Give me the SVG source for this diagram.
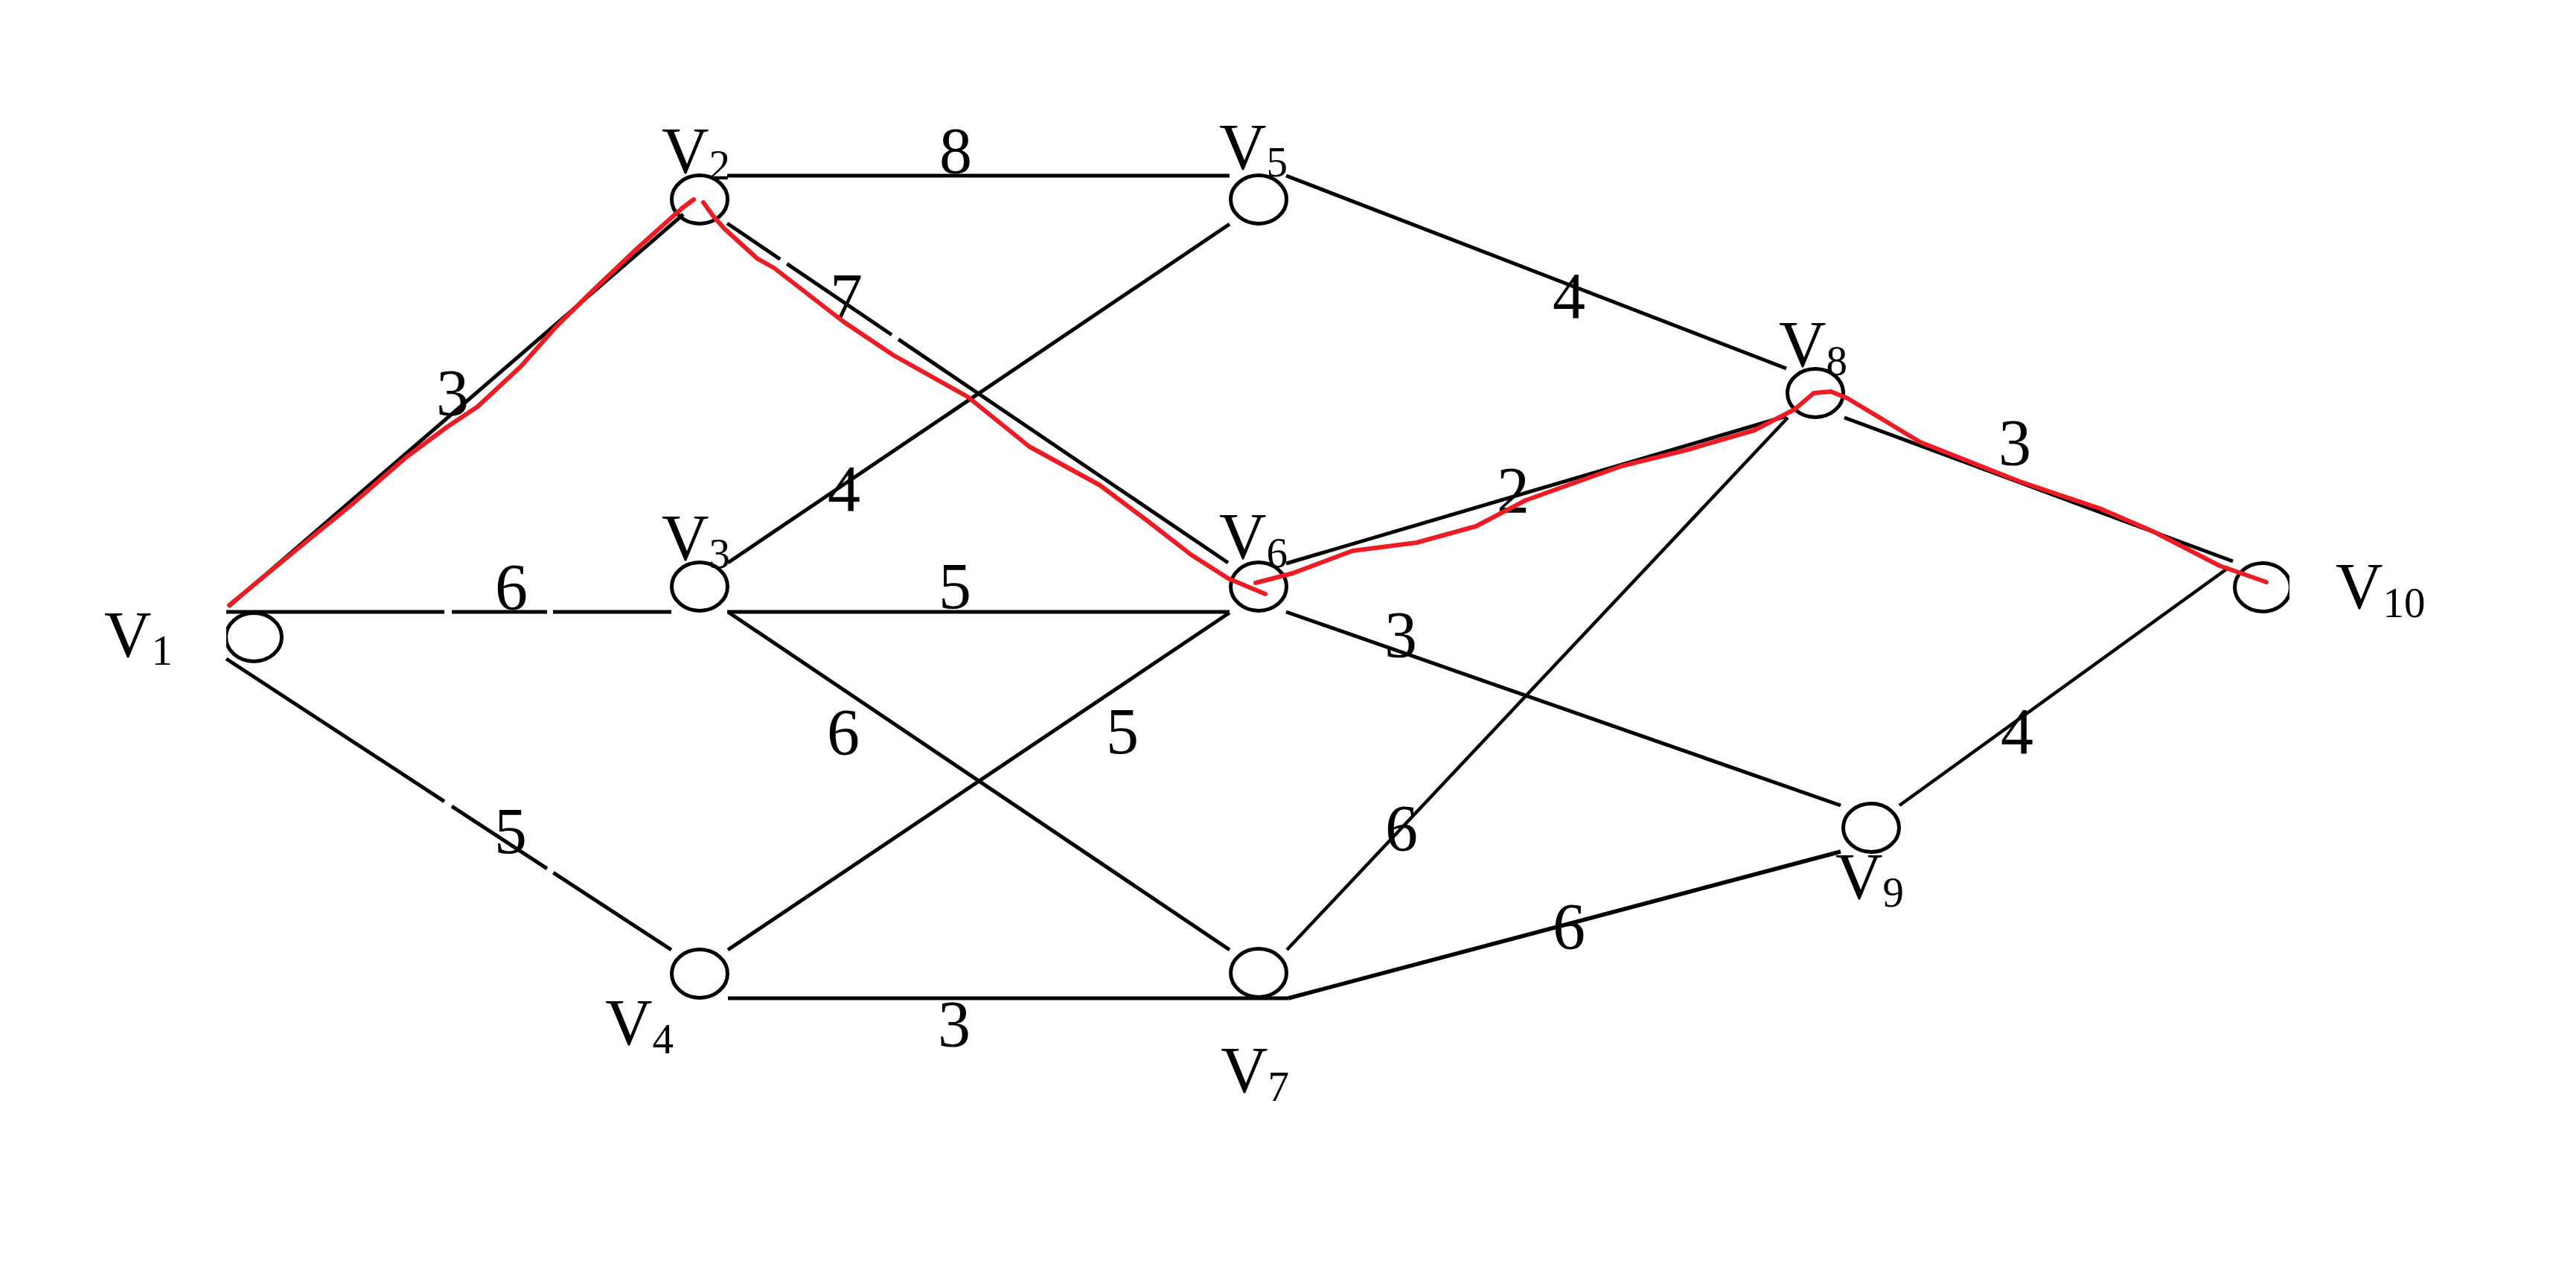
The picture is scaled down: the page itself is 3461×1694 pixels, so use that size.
<svg xmlns="http://www.w3.org/2000/svg" width="3461" height="1694" viewBox="0 0 3461 1694">
<style>
.node{fill:none;stroke:#000;stroke-width:5}
.edge{stroke:#000;stroke-width:5;fill:none}
.lbl{font-family:"Liberation Serif","Times New Roman",serif;font-size:88px;fill:#000}
.w{text-anchor:middle}
.sub{font-size:57px}
.path{fill:none;stroke:#ed1c24;stroke-width:6;stroke-linecap:round;stroke-linejoin:round}
</style>
<defs>
<clipPath id="clipL"><rect x="304" y="0" width="3200" height="1694"/></clipPath>
<clipPath id="clipR"><rect x="0" y="0" width="3076" height="1694"/></clipPath>
</defs>
<rect width="3461" height="1694" fill="#fff"/>
<g id="edges">
<line class="edge" x1="307" y1="815" x2="918" y2="288"/>
<line class="edge" x1="977" y1="236" x2="1652" y2="236"/>
<line class="edge" x1="304" y1="822" x2="902" y2="822" stroke-dasharray="293 10 128 8 400"/>
<line class="edge" x1="977" y1="822" x2="1652" y2="822"/>
<line class="edge" x1="304" y1="885" x2="902" y2="1276" stroke-dasharray="350 12 153 10 400"/>
<line class="edge" x1="978" y1="1341" x2="1731" y2="1341"/>
<line class="edge" x1="977" y1="300" x2="1650" y2="756" stroke-dasharray="86 11 170 11 700"/>
<line class="edge" x1="978" y1="756" x2="1652" y2="301"/>
<line class="edge" x1="978" y1="822" x2="1652" y2="1276"/>
<line class="edge" x1="978" y1="1276" x2="1652" y2="823"/>
<line class="edge" x1="1728" y1="236" x2="2400" y2="495"/>
<line class="edge" x1="1728" y1="757" x2="2400" y2="559"/>
<line class="edge" x1="1728" y1="822" x2="2473" y2="1082"/>
<line class="edge" x1="1729" y1="1276" x2="2402" y2="561" style="stroke-width:4.5"/>
<line class="edge" x1="1731" y1="1341" x2="2473" y2="1144" style="stroke-width:5.5"/>
<line class="edge" x1="2478" y1="561" x2="3000" y2="754"/>
<line class="edge" x1="2552" y1="1082" x2="2995" y2="762" style="stroke-width:4.5"/>
</g>
<g id="weights" class="lbl w">
<text x="1284" y="232">8</text>
<text x="1137" y="428">7</text>
<text x="608" y="557">3</text>
<text x="687" y="818">6</text>
<text x="686" y="1146">5</text>
<text x="1283" y="817">5</text>
<text x="1134" y="686">4</text>
<text x="1133" y="1013">6</text>
<text x="1508" y="1012">5</text>
<text x="1282" y="1405">3</text>
<text x="1882" y="882">3</text>
<text x="1883" y="1142">6</text>
<text x="2108" y="427">4</text>
<text x="2033" y="688">2</text>
<text x="2707" y="624">3</text>
<text x="2108" y="1274">6</text>
<text x="2710" y="1012">4</text>
</g>
<g id="v1"><ellipse class="node" cx="341" cy="856" rx="37.5" ry="32.5" clip-path="url(#clipL)"/><text class="lbl" x="140" y="882">V<tspan class="sub" dy="11">1</tspan></text></g>
<g id="v2"><ellipse class="node" cx="940" cy="268" rx="37.5" ry="32.5"/><text class="lbl" x="889" y="232">V<tspan class="sub" dy="9">2</tspan></text></g>
<g id="v3"><ellipse class="node" cx="940" cy="788" rx="37.5" ry="32.5"/><text class="lbl" x="889" y="752">V<tspan class="sub" dy="11">3</tspan></text></g>
<g id="v4"><ellipse class="node" cx="940" cy="1308" rx="37.5" ry="32.5"/><text class="lbl" x="813" y="1403">V<tspan class="sub" dy="12">4</tspan></text></g>
<g id="v5"><ellipse class="node" cx="1691" cy="268" rx="37.5" ry="32.5"/><text class="lbl" x="1638" y="227">V<tspan class="sub" dy="10">5</tspan></text></g>
<g id="v6"><ellipse class="node" cx="1691" cy="788" rx="37.5" ry="32.5"/><text class="lbl" x="1638" y="750">V<tspan class="sub" dy="12">6</tspan></text></g>
<g id="v7"><ellipse class="node" cx="1691" cy="1307" rx="37.5" ry="32.5"/><text class="lbl" x="1640" y="1467">V<tspan class="sub" dy="12">7</tspan></text></g>
<g id="v8"><ellipse class="node" cx="2439" cy="528" rx="37.5" ry="32.5"/><text class="lbl" x="2390" y="492">V<tspan class="sub" dy="12">8</tspan></text></g>
<g id="v9"><ellipse class="node" cx="2514" cy="1112" rx="37.5" ry="32.5"/><text class="lbl" x="2466" y="1207">V<tspan class="sub" dy="11">9</tspan></text></g>
<g id="v10"><ellipse class="node" cx="3040" cy="789" rx="37.5" ry="32.5" clip-path="url(#clipR)"/><text class="lbl" x="3138" y="817">V<tspan class="sub" dy="12">10</tspan></text></g>
<g id="highlight">
<path class="path" d="M308 813 L400 737 L470 680 L546 614 L600 574 L642 546 L700 492 L748 438 L800 387 L859 331 L916 280 L932 268"/>
<path class="path" d="M945 272 L958 290 L973 307 L1017 347 L1040 360 L1133 432 L1200 477 L1300 533 L1383 600 L1478 652 L1542 700 L1600 745 L1650 777 L1700 798"/>
<path class="path" d="M1687 783 L1737 770 L1817 740 L1903 729 L1983 707 L2050 672 L2089 658 L2179 626 L2268 604 L2357 578 L2411 550 L2437 528 L2460 526 L2482 535 L2580 594 L2714 647 L2821 683 L2893 714 L2982 760 L3045 782"/>
</g>
</svg>
